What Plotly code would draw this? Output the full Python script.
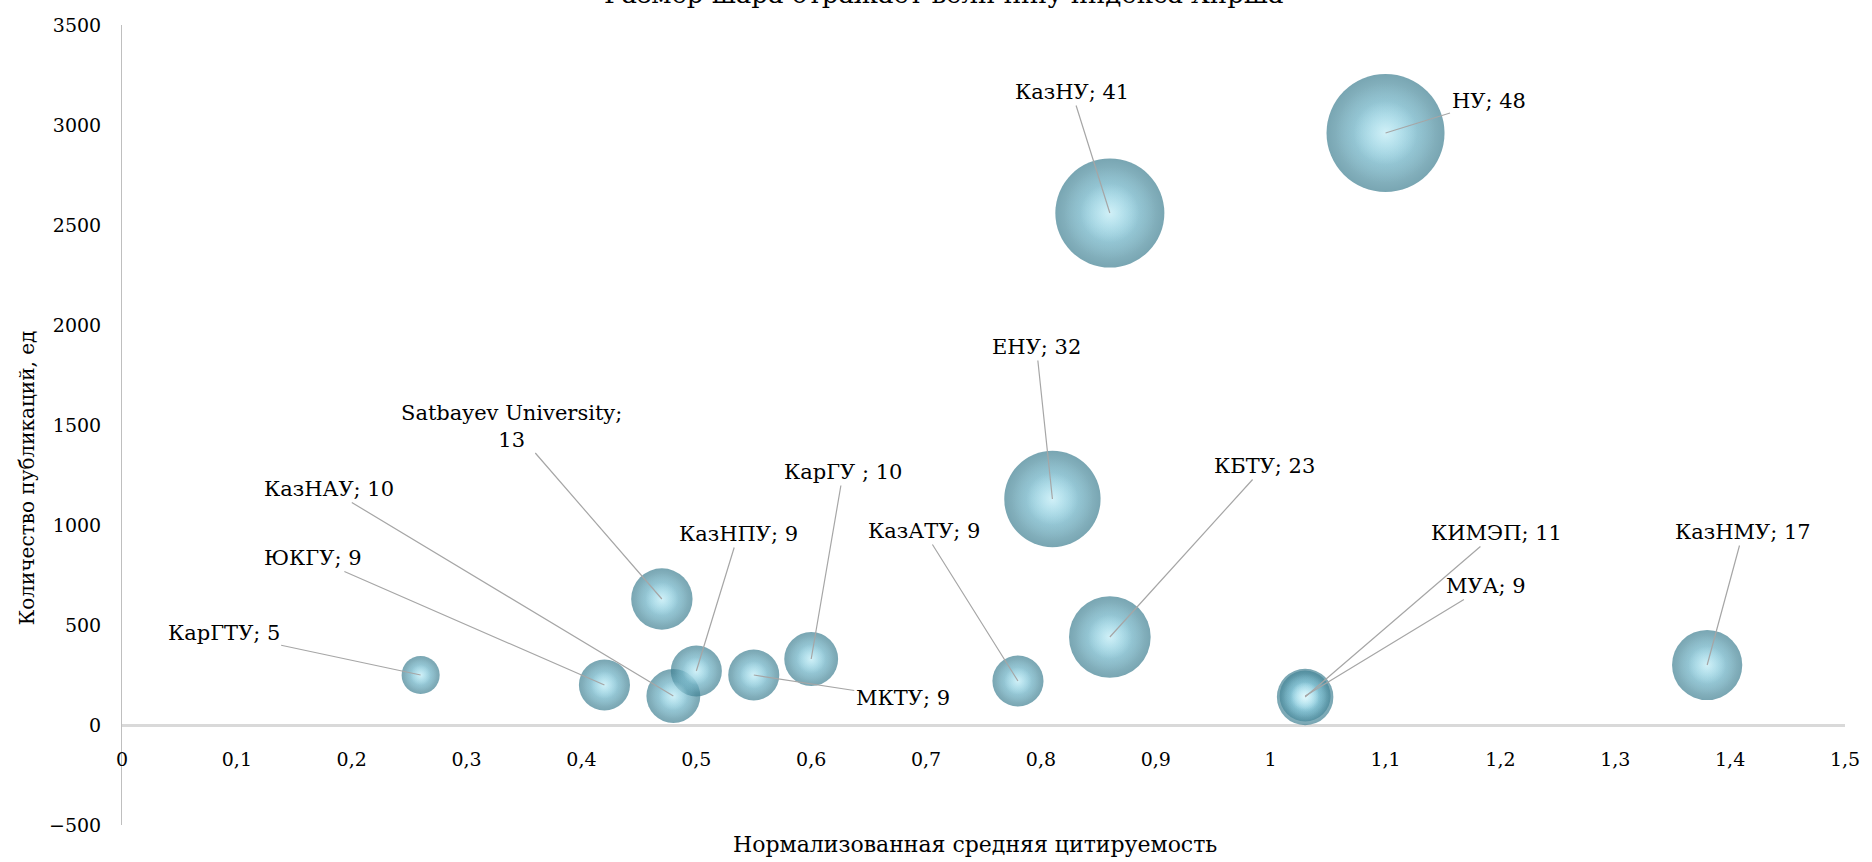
import plotly.graph_objects as go

# данные: нормализованная цитируемость, публикации, индекс Хирша
univ = ['КарГТУ', 'ЮКГУ', 'КазНАУ', 'Satbayev University', 'КазНПУ', 'МКТУ', 'КарГУ ',
        'КазАТУ', 'ЕНУ', 'КБТУ', 'КазНУ', 'НУ', 'МУА', 'КИМЭП', 'КазНМУ']
citation = [0.26, 0.42, 0.48, 0.47, 0.50, 0.55, 0.60, 0.78, 0.81, 0.86, 0.86, 1.10, 1.03, 1.03, 1.38]
publications = [250, 200, 145, 630, 270, 250, 330, 220, 1130, 440, 2560, 2960, 145, 140, 300]
hirsch = [5, 9, 10, 13, 9, 9, 10, 9, 32, 23, 41, 48, 9, 11, 17]

# смещения подписей (px) от центра шара
label_dx = [-197, -291, -344, -150, 42, 149, 32, -94, -16, 155, -38, 103, 181, 191, 36]
label_dy = [-42, -127, -207, -173, -137, 23, -187, -150, -152, -171, -121, -32, -110, -164, -133]

FONT = 'DejaVu Serif'
max_d = 118
sref = 2.0 * max(hirsch) / max_d ** 2

fig = go.Figure()

# шар: несколько слоёв с радиальным градиентом (gradient.color = центр)
layers = [
    (1.0, '#3f7f91', '#92d2e4'),
    (1.4, 'rgba(146,210,228,0)', 'rgba(146,210,228,1)'),
    (3.4, 'rgba(210,245,252,0)', 'rgba(236,253,255,0.95)'),
]
for k, edge, center in layers:
    fig.add_trace(go.Scatter(
        x=citation, y=publications, mode='markers', showlegend=False, hoverinfo='skip',
        marker=dict(size=hirsch, sizemode='area', sizeref=sref * k,
                    color=edge, line=dict(width=0),
                    gradient=dict(type='radial', color=center))))

# подписи с выносками
for name, x, y, h, dx, dy in zip(univ, citation, publications, hirsch, label_dx, label_dy):
    txt = f'{name}; {h}'
    if name == 'Satbayev University':
        txt = 'Satbayev University;<br>13'
    fig.add_annotation(x=x, y=y, text=txt, showarrow=True, ax=dx, ay=dy,
                       arrowhead=0, arrowwidth=1.2, arrowcolor='#a6a6a6', standoff=0,
                       font=dict(family=FONT, size=21, color='#000000'), align='center')

# заголовки
fig.add_annotation(x=0.477, y=1.0175, xref='paper', yref='paper', yanchor='bottom', xanchor='center',
                   text='Размер шара отражает величину индекса Хирша', showarrow=False,
                   font=dict(family=FONT, size=26, color='#000000'))
fig.add_annotation(x=0.495, y=-0.024, xref='paper', yref='paper', yanchor='middle', xanchor='center',
                   text='Нормализованная средняя цитируемость', showarrow=False,
                   font=dict(family=FONT, size=22, color='#000000'))
fig.add_annotation(x=-0.0555, y=0.434, xref='paper', yref='paper', textangle=-90,
                   xanchor='center', yanchor='middle',
                   text='Количество публикаций, ед', showarrow=False,
                   font=dict(family=FONT, size=20, color='#000000'))

fig.update_xaxes(range=[0, 1.5], dtick=0.1, tick0=0, showgrid=False, zeroline=False,
                 showline=False, anchor='free', position=0.125, ticklabelstandoff=21,
                 tickfont=dict(family=FONT, size=19, color='#000000'))
fig.update_yaxes(range=[-500, 3500], dtick=500, showgrid=False,
                 zeroline=True, zerolinecolor='#d9d9d9', zerolinewidth=2.5,
                 showline=True, linecolor='#bfbfbf', linewidth=1, ticklabelstandoff=16,
                 tickfont=dict(family=FONT, size=19, color='#000000'))

fig.update_layout(width=1872, height=862, separators=', ',
                  margin=dict(l=122, r=19, t=25, b=37),
                  plot_bgcolor='white', paper_bgcolor='white')

fig.write_html('out.html', config={'displayModeBar': False},
               post_script="document.body.style.margin='0';")
